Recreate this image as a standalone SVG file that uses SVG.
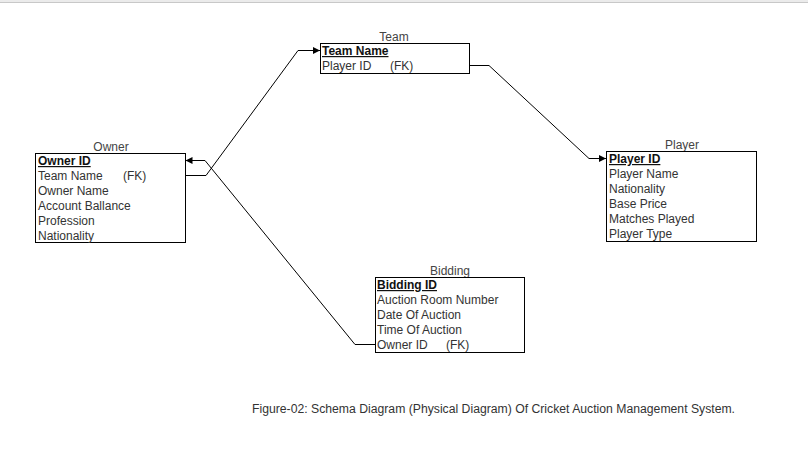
<svg xmlns="http://www.w3.org/2000/svg" width="808" height="450" viewBox="0 0 808 450">
<style>
.box{fill:#fff;stroke:#000;stroke-width:1}
.t{font-family:"Liberation Sans",Arial,sans-serif;font-size:12px;fill:#333}
.h{font-family:"Liberation Sans",Arial,sans-serif;font-size:12px;fill:#111;font-weight:bold;text-decoration:underline}
.title{font-family:"Liberation Sans",Arial,sans-serif;font-size:12px;fill:#444;text-anchor:middle}
.c{fill:none;stroke:#000;stroke-width:1}
</style>
<defs>
<marker id="arr" viewBox="0 0 8 8" refX="8" refY="4" markerWidth="7" markerHeight="8" markerUnits="userSpaceOnUse" orient="auto">
<path d="M0,0 L8,4 L0,8 Z" fill="#000"/>
</marker>
</defs>
<rect x="0" y="0" width="808" height="2" fill="#ebebeb"/>
<line x1="0" y1="2.5" x2="808" y2="2.5" stroke="#c8c8c8" stroke-width="1"/>
<g id="connectors">
<polyline class="c" points="185.5,175.5 206,175.5 298,50.5 320,50.5" marker-end="url(#arr)"/>
<polyline class="c" points="469.5,65.5 489,65.5 589,158.5 606,158.5" marker-end="url(#arr)"/>
<polyline class="c" points="375.5,344.5 355,344.5 205,160.5 185.5,160.5" marker-end="url(#arr)"/>
</g>
<g id="team">
<text class="title" x="394" y="41">Team</text>
<rect class="box" x="320.5" y="43.5" width="149" height="30"/>
<text class="h" x="322" y="55">Team Name</text>
<text class="t" x="322" y="70">Player ID</text>
<text class="t" x="390" y="70">(FK)</text>
</g>
<g id="owner">
<text class="title" x="111" y="151">Owner</text>
<rect class="box" x="35.5" y="153.5" width="150" height="89"/>
<text class="h" x="38" y="165">Owner ID</text>
<text class="t" x="38" y="180">Team Name</text>
<text class="t" x="123" y="180">(FK)</text>
<text class="t" x="38" y="195">Owner Name</text>
<text class="t" x="38" y="210">Account Ballance</text>
<text class="t" x="38" y="225">Profession</text>
<text class="t" x="38" y="240">Nationality</text>
</g>
<g id="player">
<text class="title" x="682" y="149">Player</text>
<rect class="box" x="606.5" y="151.5" width="150" height="90"/>
<text class="h" x="609" y="163">Player ID</text>
<text class="t" x="609" y="178">Player Name</text>
<text class="t" x="609" y="193">Nationality</text>
<text class="t" x="609" y="208">Base Price</text>
<text class="t" x="609" y="223">Matches Played</text>
<text class="t" x="609" y="238">Player Type</text>
</g>
<g id="bidding">
<text class="title" x="450" y="275">Bidding</text>
<rect class="box" x="375.5" y="277.5" width="149" height="75"/>
<text class="h" x="377" y="289">Bidding ID</text>
<text class="t" x="377" y="304">Auction Room Number</text>
<text class="t" x="377" y="319">Date Of Auction</text>
<text class="t" x="377" y="334">Time Of Auction</text>
<text class="t" x="377" y="349">Owner ID</text>
<text class="t" x="446" y="349">(FK)</text>
</g>
<text class="t" x="252" y="413" textLength="483" lengthAdjust="spacingAndGlyphs">Figure-02: Schema Diagram (Physical Diagram) Of Cricket Auction Management System.</text>
</svg>
